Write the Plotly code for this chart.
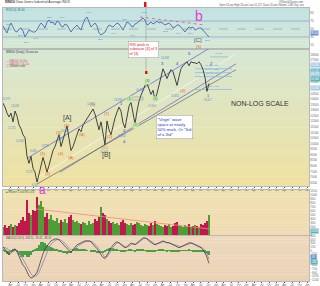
import plotly.graph_objects as go
from plotly.subplots import make_subplots
import pandas as pd

W, H = 320, 286
FONT = "Liberation Sans, Arial, sans-serif"

# ---------------- data ----------------
start = pd.Timestamp("2008-01-02")
step_days = 24

price = [13630, 13270, 12740, 12390, 12740, 11950, 12920, 12480,
         11680, 11330, 10800, 10530, 8850, 8230, 8850, 7790,
         7430, 6547, 7260, 7960, 8760, 8140, 7430, 8050,
         8760, 9380, 9730, 10260, 10800, 9730, 10440, 11150,
         11590, 10440, 9380, 9730, 10260, 10800, 11330, 11060,
         11680, 11950, 12210, 12480, 12740, 13100, 12650, 11950,
         11240, 11950, 10710, 9910, 12030, 11240, 10800, 11680,
         12300, 12830, 13270, 12920, 11860, 11410, 12480, 13360,
         13720, 12740, 11770, 12920, 13800, 14340, 14870, 15220,
         15400, 14870, 14420, 14780, 13890, 14510, 15220, 16110,
         16720, 16280, 15840, 16280, 16640, 16460, 15750, 15220,
         16020, 16720, 16990, 17170, 17350, 16990, 17350, 17260,
         17260, 17170, 17350, 17080, 16640, 15950, 14690, 15400]

rsi = [57.5, 47.5, 40, 55, 65, 55, 45, 42.5,
       50, 52.5, 45, 30, 40, 47.5, 45, 42.5,
       42.5, 47.5, 57.5, 65, 60, 52.5, 67.5, 72.5,
       65, 67.5, 60, 70, 67.5, 57.5, 55, 62.5,
       60, 52.5, 42.5, 50, 55, 60, 52.5, 47.5,
       62.5, 75, 80, 67.5, 55, 60, 65, 57.5,
       40, 35, 40, 42.5, 52.5, 60, 57.5, 55,
       60, 65, 62.5, 55, 47.5, 57.5, 67.5, 65,
       57.5, 55, 62.5, 65, 70, 75, 77.5, 72.5,
       60, 62.5, 67.5, 62.5, 65, 70, 65, 67.5,
       62.5, 60, 62.5, 65, 60, 52.5, 55, 60,
       60, 55, 47.5, 42.5, 50, 55, 52.5, 55,
       47.5, 50, 52.5, 52.5, 47.5, 40, 35, 30]

volume = [200, 250, 175, 225, 275, 200, 250, 225,
          300, 375, 450, 350, 875, 550, 500, 625,
          600, 950, 750, 850, 700, 450, 550, 400,
          500, 375, 350, 425, 300, 375, 325, 400,
          300, 450, 500, 375, 325, 350, 300, 275,
          325, 300, 250, 350, 275, 300, 400, 350,
          450, 700, 550, 500, 400, 350, 300, 325,
          275, 300, 250, 325, 375, 300, 275, 250,
          300, 250, 275, 325, 300, 250, 225, 275,
          250, 225, 300, 250, 350, 275, 250, 225,
          200, 250, 225, 275, 200, 225, 300, 325,
          250, 225, 200, 250, 225, 275, 200, 225,
          250, 225, 200, 275, 250, 300, 350, 500]

macd = [160, 80, -40, -160, -80, 40, 80, -40,
        -240, -440, -600, -680, -880, -1040, -1120, -1080,
        -1000, -880, -640, -360, -120, 80, 200, 320,
        400, 440, 480, 480, 440, 360, 280, 200,
        80, 0, -80, 40, 160, 240, 280, 320,
        360, 400, 400, 400, 360, 280, 200, 80,
        -40, -160, -280, -320, -200, -40, 120, 240,
        320, 360, 320, 240, 160, 120, 160, 240,
        320, 280, 240, 320, 400, 480, 520, 520,
        480, 400, 320, 280, 240, 280, 320, 360,
        400, 360, 320, 320, 280, 240, 200, 160,
        120, 160, 200, 240, 280, 320, 320, 280,
        240, 200, 160, 120, 40, -80, -280, -520]

signal = [120, 130, 90, 20, -50, -40, 10, 20,
          -60, -200, -360, -500, -640, -800, -950, -1040,
          -1050, -1000, -880, -700, -480, -250, -40, 130,
          260, 350, 410, 450, 460, 430, 370, 300,
          200, 110, 30, 0, 60, 150, 230, 280,
          320, 360, 385, 400, 390, 340, 270, 170,
          60, -60, -180, -270, -260, -150, 0, 140,
          250, 320, 330, 290, 220, 160, 150, 190,
          260, 290, 270, 280, 340, 420, 480, 510,
          500, 450, 380, 320, 270, 270, 290, 330,
          370, 370, 340, 330, 300, 270, 230, 190,
          150, 150, 180, 220, 260, 290, 310, 300,
          270, 230, 190, 150, 90, 0, -150, -350]

# trend lines (bar index, value)
chan_a_i, chan_a_v = [12, 116.5], [8671, 19999]
chan_b_i, chan_b_v = [28.5, 116.5], [7432, 17167]
chan_c_i, chan_c_v = [17, 116.5], [6901, 18052]
chan_d_i, chan_d_v = [17, 116.5], [6370, 16636]
fib_levels = [16725, 16370, 16016, 14866]
fib_names = ["16,725 (.236)", "16,370 (.382)", "16,016 (.5)", "14,866 (.618)"]
fib_i = [96, 114.5]
top_level_i, top_level_v = [103.5, 112.5], 17787
rsi_trend_i, rsi_trend_v = [68.5, 101], [80, 60]
vol_trend_i, vol_trend_v = [16.5, 103.5], [650, 150]

# ---------------- helpers ----------------
def at(i):
    return start + pd.Timedelta(days=step_days * i)

dates = [at(i) for i in range(len(price))]

def P(px, py):
    return px / W, 1 - py / H

fig = make_subplots(rows=4, cols=1, shared_xaxes=True, vertical_spacing=0)

# RSI
fig.add_trace(go.Scatter(x=dates[:len(rsi)], y=rsi, mode="lines",
                         line=dict(color="#4568b2", width=0.9), hoverinfo="skip"), row=1, col=1)
fig.add_trace(go.Scatter(x=[at(i) for i in rsi_trend_i], y=rsi_trend_v, mode="lines",
                         line=dict(color="#e06a7a", width=0.9, dash="dot"), hoverinfo="skip"), row=1, col=1)

# channel lines
for ci, cv, col, wd in [(chan_a_i, chan_a_v, "#6b6bd6", 0.8),
                        (chan_b_i, chan_b_v, "#6b6bd6", 0.8),
                        (chan_c_i, chan_c_v, "#f4f4f4", 0.9),
                        (chan_d_i, chan_d_v, "#666666", 0.7)]:
    fig.add_trace(go.Scatter(x=[at(i) for i in ci], y=cv, mode="lines",
                             line=dict(color=col, width=wd), hoverinfo="skip"), row=2, col=1)
for lv in fib_levels:
    fig.add_trace(go.Scatter(x=[at(i) for i in fib_i], y=[lv, lv], mode="lines",
                             line=dict(color="#8fb9e3", width=0.8), hoverinfo="skip"), row=2, col=1)
fig.add_trace(go.Scatter(x=[at(i) for i in top_level_i], y=[top_level_v, top_level_v], mode="lines",
                         line=dict(color="#8fb9e3", width=0.8), hoverinfo="skip"), row=2, col=1)

# price
fig.add_trace(go.Scatter(x=dates, y=price, mode="lines",
                         line=dict(color="#262626", width=0.85), hoverinfo="skip"), row=2, col=1)

# volume
vcols = []
for k in range(len(volume)):
    if k == 0 or price[k] >= price[k - 1]:
        vcols.append("#4f9d35")
    else:
        vcols.append("#c0184c")
fig.add_trace(go.Bar(x=dates[:len(volume)], y=volume, marker=dict(color=vcols, line=dict(width=0)),
                     width=step_days * 0.85 * 86400000, hoverinfo="skip"), row=3, col=1)
fig.add_trace(go.Scatter(x=[at(i) for i in vol_trend_i], y=vol_trend_v, mode="lines",
                         line=dict(color="#f08a78", width=0.8), hoverinfo="skip"), row=3, col=1)

# MACD
hist = [m - s for m, s in zip(macd, signal)]
fig.add_trace(go.Bar(x=dates[:len(hist)], y=hist, marker=dict(color="#48a046", line=dict(width=0)),
                     width=step_days * 86400000, hoverinfo="skip"), row=4, col=1)
fig.add_trace(go.Scatter(x=dates[:len(signal)], y=signal, mode="lines",
                         line=dict(color="#9a88b8", width=0.9), hoverinfo="skip"), row=4, col=1)
fig.add_trace(go.Scatter(x=dates[:len(macd)], y=macd, mode="lines",
                         line=dict(color="#3a3a3a", width=0.75), hoverinfo="skip"), row=4, col=1)

# ---------------- layout ----------------
xd = [3 / W, 309 / W]
doms = {1: [1 - 49 / H, 1 - 8 / H], 2: [1 - 186 / H, 1 - 49 / H],
        3: [1 - 235 / H, 1 - 190 / H], 4: [1 - 281 / H, 1 - 236 / H]}
xr = [at(0), at(153)]
for r in range(1, 5):
    fig.update_xaxes(row=r, col=1, domain=xd, range=xr, showgrid=False, zeroline=False,
                     showline=True, mirror=True, linecolor="#b8b8b8", linewidth=0.5,
                     showticklabels=(r in (2, 4)), ticks="outside" if r in (2, 4) else "",
                     ticklen=0.8, tickcolor="#555", dtick="M3", tickformat="%b",
                     tickfont=dict(size=2.6, color="#555", family=FONT), automargin=False)
    fig.update_yaxes(row=r, col=1, domain=doms[r], side="right", showgrid=False, zeroline=False,
                     showline=True, mirror=True, linecolor="#b8b8b8", linewidth=0.5,
                     ticks="", tickfont=dict(size=3, color="#666", family=FONT), automargin=False)
fig.update_yaxes(row=1, col=1, range=[0, 102.5], tickvals=[10, 30, 50, 70, 90])
fig.update_yaxes(row=2, col=1, range=[6193, 18494], dtick=500, tickformat="d")
fig.update_yaxes(row=3, col=1, range=[0, 1125], dtick=100)
fig.update_yaxes(row=4, col=1, range=[-1240, 600], dtick=150)

shapes = []

def hexrgb(h):
    h = h.lstrip("#")
    return tuple(int(h[k:k + 2], 16) for k in (0, 2, 4))

def grad(py0, py1, c0, c1, nb=14):
    a, b = hexrgb(c0), hexrgb(c1)
    for k in range(nb):
        t = k / (nb - 1)
        c = "rgb(%d,%d,%d)" % tuple(round(a[j] + (b[j] - a[j]) * t) for j in range(3))
        y0 = py0 + (py1 - py0) * k / nb
        y1 = py0 + (py1 - py0) * (k + 1) / nb + 0.3
        shapes.append(dict(type="rect", xref="paper", yref="paper", x0=3 / W, x1=309 / W,
                           y0=1 - y1 / H, y1=1 - y0 / H, fillcolor=c, line=dict(width=0), layer="below"))

grad(8, 49, "#c2e2e2", "#d6e9d3")
grad(49, 186, "#d6e8d2", "#efe1a2")
grad(190, 235, "#efe2b2", "#f0dbb2")
grad(236, 281, "#eed9bd", "#ebd2b5")

def pline(x0, y0, x1, y1, color, width=0.6, dash="solid"):
    a0, b0 = P(x0, y0)
    a1, b1 = P(x1, y1)
    shapes.append(dict(type="line", xref="paper", yref="paper", x0=a0, y0=b0, x1=a1, y1=b1,
                       line=dict(color=color, width=width, dash=dash)))

def prect(x0, y0, x1, y1, fill, line="rgba(0,0,0,0)", lw=0):
    a0, b0 = P(x0, y0)
    a1, b1 = P(x1, y1)
    shapes.append(dict(type="rect", xref="paper", yref="paper", x0=a0, y0=b1, x1=a1, y1=b0,
                       fillcolor=fill, line=dict(color=line, width=lw)))

# RSI guide lines
for lv, dash, col in [(70, "solid", "#7e9dd2"), (30, "solid", "#7e9dd2"), (50, "dash", "#8c9cbc")]:
    shapes.append(dict(type="line", xref="x domain", yref="y", x0=0, x1=1, y0=lv, y1=lv,
                       line=dict(color=col, width=0.7, dash=dash), layer="below"))

# markers and leader lines
pline(146, 8, 146, 41, "#888", 0.5)
pline(146, 57, 146, 72, "#888", 0.5)
prect(144, 2, 146.5, 7, "#e01818")
prect(145, 71, 147.5, 74, "#e01818")
prect(132, 97, 143, 100, "rgba(0,0,0,0)", "#8a8a8a", 0.5)

anns = []

def label(text, px, py, size, color, xanchor="center", **kw):
    x, y = P(px, py)
    d = dict(text=text, x=x, y=y, xref="paper", yref="paper", showarrow=False,
             font=dict(size=size, color=color, family=FONT), xanchor=xanchor, yanchor="middle")
    d.update(kw)
    anns.append(d)

# header and legends
label("<b>$INDU</b> Dow Jones Industrial Average INDX", 3, 2, 3.4, "#333", "left")
label("@StockCharts.com", 306, 1.6, 2.8, "#555", "right")
label("Open 16,xxx High 16,xxx Low 16,117 Close 16,xxx Volume 1.4B Chg -xxx", 306, 5, 2.6, "#555", "right")
label("RSI(14) 38.46", 4, 10.5, 3, "#2f7f8f", "left")
label("$INDU (Daily) 16,xxx.xx", 4, 52, 3, "#334", "left")
label("— MA(50) 16,8xx", 4, 61, 2.8, "#e0508a", "left")
label("— MA(200) 16,5xx", 4, 63.5, 2.8, "#e0508a", "left")
label("— Volume undr", 4, 66, 2.8, "#555", "left")
label("■ Volume 1,446,960,104", 4, 191.5, 2.6, "#3a7a2a", "left")
label("MACD(12,26,9) -183.51, -95.41, -88.10", 4, 238, 2.6, "#444", "left")

# big labels
label("a", 42, 190, 12, "#e23ad6")
label("b", 199, 16, 14, "#e23ad6")
label("[A]", 67, 118, 7, "#444")
label("[B]", 106, 155, 7, "#444")
label("[C]", 198, 40, 6, "#555")
label("NON-LOG SCALE", 260, 103, 7, "#333")

# text boxes
label("RSI peak in<br>subwave [4] of 3<br>of (3)", 143, 49, 3.8, "#e02020", align="left",
      bgcolor="#ffffff", bordercolor="#999", borderwidth=0.5, borderpad=1)
label("\"Virgin\" wave<br>space at nearly<br>50% mark. Or \"3rd<br>of a 3rd\"", 174, 126.5, 4.1, "#2030d0",
      align="left", bgcolor="#ffffff", bordercolor="#999", borderwidth=0.5, borderpad=1)

# orange wave labels
for t, x, y in [("(1)", 43, 153), ("(2)", 48, 173), ("(3)", 59, 132), ("(4)", 61, 153),
                ("(5)", 67, 125), ("(A)", 71, 157), ("(B)", 82, 134), ("(5)", 93, 104),
                ("(C)", 105, 147), ("(1)", 107, 113), ("(2)", 110, 136), ("(4)", 183, 90),
                ("(5)", 199, 46)]:
    label(t, x, y, 4.2, "#e85a2a")
# blue wave labels
for t, x, y in [("1", 121, 103), ("2", 124, 130), ("3", 162, 63), ("4", 177, 64),
                ("5", 189, 54), ("2", 211, 64), ("4", 124, 141)]:
    label(t, x, y, 4.2, "#3434c4")
label("1", 208, 96, 4.2, "#666")
# green boxed wave labels
for t, x, y in [("(1)", 129, 100), ("(2)", 135, 125), ("(3)", 147, 82), ("(4)", 155, 100)]:
    label(t, x, y, 3.4, "#2a8a2a", bgcolor="#cdeab6", borderpad=0.3)

# price labels
for t, x, y in [("13,279", 6, 99), ("13,058", 15, 106), ("11,731", 12, 128), ("10,962", 20, 141),
                ("9,034", 33, 151), ("8,175", 29, 172), ("6,547", 35, 185), ("8,878", 45, 146),
                ("9,686", 60, 139), ("10,012", 65, 131), ("12,876", 91, 104), ("10,404", 104, 152),
                ("13,338", 118, 100), ("12,101", 122, 136), ("14,760", 140, 90), ("15,340", 152, 106),
                ("16,588", 165, 58), ("16,117", 208, 100), ("15,855", 175, 96)]:
    label(t, x, y, 2.6, "#4a90c8")
# rsi value labels
for t, x, y in [("62.1", 8, 24), ("33.7", 20, 36), ("27.1", 26, 42), ("41.3", 35, 38),
                ("72.8", 49, 17), ("70.6", 62, 17), ("74.2", 88, 13), ("33.1", 100, 39),
                ("44.6", 113, 33), ("68.7", 124, 19), ("47.2", 132, 36), ("78.0", 144, 12),
                ("50.2", 165, 32), ("47.9", 178, 33), ("51.0", 190, 33), ("38.5", 207, 40)]:
    label(t, x, y, 2.4, "#4a78b8")
# fib labels
for t, lv_py in zip(fib_names, [67, 71, 75, 88]):
    label(t, 212, lv_py - 1.3, 2.4, "#4a90c8")
label("17,787", 219, 53.7, 2.4, "#4a90c8")

# right-axis highlighted values
for t, y, bg in [("38.46", 33, "#6d8fd2"), ("16,805", 65, "#a6cbe8"), ("16,590", 71, "#5ab4b4"),
                 ("16,475", 74, "#a6cbe8"), ("16,300", 79, "#5ab4b4"), ("15,600", 88, "#a6cbe8"),
                 ("324M", 231, "#5ab4b4"), ("-95", 257, "#6d8fd2"), ("-184", 262, "#5ab4b4")]:
    label(t, 309.5, y, 2.6, "#ffffff", "left", bgcolor=bg, borderpad=0.1)

fig.update_layout(width=W, height=H, margin=dict(l=0, r=0, t=0, b=0), autosize=False,
                  paper_bgcolor="#ffffff", plot_bgcolor="rgba(0,0,0,0)", showlegend=False,
                  bargap=0, shapes=shapes, annotations=anns,
                  font=dict(family=FONT))

fig.write_html("out.html")
